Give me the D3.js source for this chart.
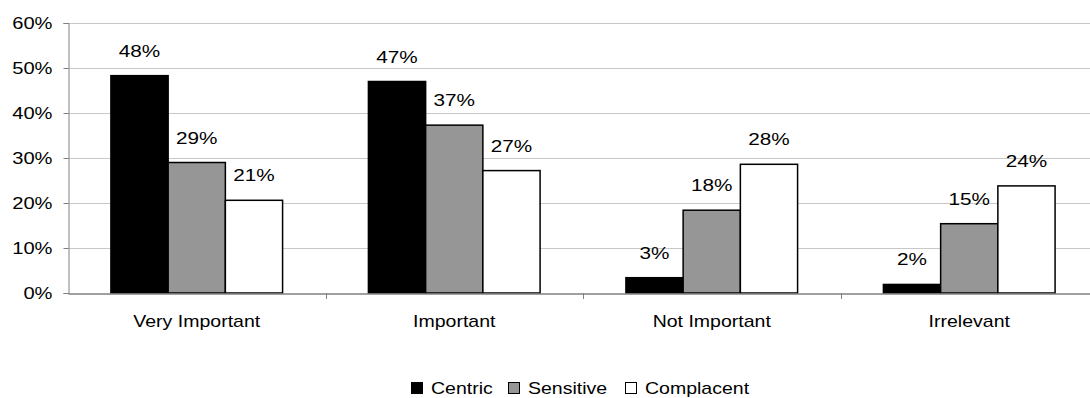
<!DOCTYPE html>
<html><head><meta charset="utf-8">
<script src="https://cdn.jsdelivr.net/npm/d3@7"></script>
<style>body{margin:0;background:#fff}svg{display:block;font-family:"Liberation Sans",Arial,sans-serif}</style>
</head><body><svg id="c" width="1090" height="398"></svg>
<script>
const categories = ["Very Important","Important","Not Important","Irrelevant"];
const seriesNames = ["Centric","Sensitive","Complacent"];
const centric = [48.3, 47.0, 3.4, 1.9];
const sensitive = [29.0, 37.3, 18.4, 15.4];
const complacent = [20.6, 27.2, 28.6, 23.8];
const labelsCentric = ["48%","47%","3%","2%"];
const labelsSensitive = ["29%","37%","18%","15%"];
const labelsComplacent = ["21%","27%","28%","24%"];
const yTicks = [0,10,20,30,40,50,60];
const fills = ["#000000","#969696","#ffffff"];

(function(){
const series = [centric, sensitive, complacent];
const labels = [labelsCentric, labelsSensitive, labelsComplacent];
const SX = 1.22;

const svg = d3.select("#c");
const mLeft = 68, mRight = 1098, mTop = 23, mBottom = 293;
const x = d3.scaleBand().domain(categories).range([mLeft, mRight]).padding(0);
const inner = d3.scaleBand().domain(seriesNames).range([0, x.bandwidth()]).paddingOuter(0.75).paddingInner(0);
const y = d3.scaleLinear().domain([0,60]).range([mBottom, mTop]);

// gridlines
svg.append("g").selectAll("line").data(yTicks.filter(d=>d>0)).join("line")
  .attr("x1", mLeft).attr("x2", 1090).attr("y1", d=>Math.round(y(d))+0.5).attr("y2", d=>Math.round(y(d))+0.5)
  .attr("stroke", "#c8c8c8").attr("stroke-width", 1);

// y axis
const ya = svg.append("g").attr("transform", `translate(${mLeft+0.5},0)`)
  .call(d3.axisLeft(y).tickValues(yTicks).tickFormat(d=>d+"%").tickSize(5).tickPadding(16));
ya.select(".domain").attr("stroke", "#808080");
ya.selectAll(".tick line").attr("stroke", "#808080");
ya.selectAll(".tick text").attr("font-size", 16.5).attr("fill", "#000")
  .attr("font-family", "Liberation Sans, Arial, sans-serif")
  .attr("x", -16 / SX).attr("transform", `scale(${SX},1)`);

// bars
categories.forEach((c, i) => {
  const g = svg.append("g").attr("transform", `translate(${x(c)},0)`);
  seriesNames.forEach((s, j) => {
    const v = series[j][i];
    g.append("rect")
      .attr("x", inner(s)).attr("y", y(v)).attr("width", inner.bandwidth()).attr("height", y(0) - y(v))
      .attr("fill", fills[j]).attr("stroke", "#000").attr("stroke-width", 1.5);
    g.append("text")
      .attr("transform", `translate(${inner(s) + inner.bandwidth()/2},${y(v) - 19}) scale(${SX},1)`)
      .attr("text-anchor", "middle").attr("font-size", 17).text(labels[j][i]);
  });
});

// x axis
const xa = svg.append("g").attr("transform", `translate(0,${mBottom+0.5})`)
  .call(d3.axisBottom(x).tickSize(0).tickPadding(22));
xa.select(".domain").attr("stroke", "#808080").attr("stroke-width", 1.5);
xa.selectAll(".tick text").attr("font-size", 16).attr("fill", "#000")
  .attr("font-family", "Liberation Sans, Arial, sans-serif")
  .attr("transform", `scale(${SX},1)`);
// boundary ticks
svg.append("g").selectAll("line").data(categories.slice(1)).join("line")
  .attr("x1", d=>Math.round(x(d))+0.5).attr("x2", d=>Math.round(x(d))+0.5)
  .attr("y1", mBottom).attr("y2", mBottom+6).attr("stroke", "#808080");

// legend
const legend = svg.append("g").attr("transform", "translate(411,382)");
const legX = [0, 97, 214];
seriesNames.forEach((s, j) => {
  const lg = legend.append("g").attr("transform", `translate(${legX[j]},0)`);
  lg.append("rect").attr("x", 0.5).attr("y", 0.5).attr("width", 11).attr("height", 11)
    .attr("fill", fills[j]).attr("stroke", "#000").attr("stroke-width", 1);
  lg.append("text").attr("transform", `translate(20,12) scale(${SX},1)`).attr("font-size", 16).text(s);
});
})();
</script></body></html>
